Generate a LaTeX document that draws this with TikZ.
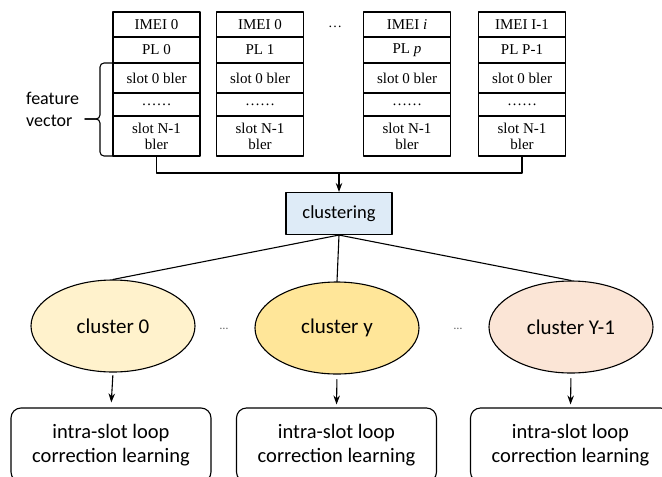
\documentclass[tikz,border=0pt]{standalone}
\usepackage{fontspec}
\setmainfont{Liberation Serif}
\newfontfamily\calibri{Carlito}
\usetikzlibrary{shapes.geometric,arrows.meta,positioning}

\definecolor{clustblue}{HTML}{DEEBF7}
\definecolor{lightgold}{HTML}{FFF2CC}
\definecolor{midgold}{HTML}{FFE699}
\definecolor{lightorange}{HTML}{FBE5D6}

\tikzset{
  cell/.style={draw,line width=1.1pt,minimum width=87pt,inner sep=0pt,align=center,
    font=\fontsize{15}{16}\selectfont},
  arr/.style={-{Stealth[length=9pt,width=6.5pt]},line width=1.1pt},
  cluster/.style={ellipse,draw,line width=1.1pt,minimum width=164pt,minimum height=92pt,
    inner sep=0pt,font=\calibri\fontsize{21}{24}\selectfont},
  learnbox/.style={draw,line width=1.1pt,rounded corners=10pt,minimum width=200pt,
    minimum height=74pt,align=center,font=\calibri\fontsize{20.5}{24}\selectfont},
}

\begin{document}
\begin{tikzpicture}[line cap=round,line join=round,x=1pt,y=-1pt]
  \useasboundingbox (0,0) rectangle (662,477);
  \clip (0,0) rectangle (662,477);
  % feature vectors of the UEs
  \foreach \x/\n/\imei/\pl in {156.5/a/0/0, 260/b/0/1, 407/c/\textit{i}/\textit{p}, 522/d/I-1/P-1}{
    \node[cell,minimum height=25pt] (imei-\n) at (\x,24.5) {IMEI \imei};
    \node[cell,minimum height=26pt] (pl-\n) at (\x,50) {PL \pl};
    \node[cell,minimum height=30pt] (first-\n) at (\x,78) {slot 0 bler};
    \node[cell,minimum height=23pt] (dots-\n) at (\x,104.5) {……};
    \node[cell,minimum height=40pt] (last-\n) at (\x,136) {slot N-1\\bler};
  }
  \node[font=\fontsize{14}{16}\selectfont] (topdots) at (335,27) {…};
  % brace
  \draw[line width=1.1pt,rounded corners=4pt] (113,63) -- (100,63) -- (100,119) -- (85,119);
  \draw[line width=1.1pt,rounded corners=4pt] (85,119) -- (100,119) -- (100,156) -- (113,156);
  \node[anchor=west,align=left,inner sep=0pt,font=\calibri\fontsize{18}{22}\selectfont] (feat) at (26,109) {feature\\vector};
  % clustering
  \node[draw,line width=1.1pt,fill=clustblue,minimum width=106pt,minimum height=42pt,
    font=\calibri\fontsize{18.5}{20}\selectfont] (clust) at (339,213.5) {clustering};
  \coordinate (bus) at (339,173);
  \draw[line width=1.1pt] (last-a.south) |- (bus) -| (last-d.south);
  \draw[arr] (bus) -- (clust.north);
  % clusters
  \node[cluster,fill=lightgold] (c0) at (113,326) {cluster 0};
  \node[cluster,fill=midgold] (cy) at (337,328) {cluster y};
  \node[cluster,fill=lightorange] (cY) at (571,327) {cluster Y-1};
  \node[font=\calibri\fontsize{12}{14}\selectfont,text=black!60] (dots1) at (224,329) {…};
  \node[font=\calibri\fontsize{12}{14}\selectfont,text=black!60] (dots2) at (458,329) {…};
  \draw[line width=1.1pt] (clust.south) -- (c0.north);
  \draw[line width=1.1pt] (clust.south) -- (cy.north);
  \draw[line width=1.1pt] (clust.south) -- (cY.north);
  % learning boxes
  \node[learnbox] (l0) at (111,445) {intra-slot loop\\correction learning};
  \node[learnbox] (ly) at (336.5,445) {intra-slot loop\\correction learning};
  \node[learnbox] (lY) at (570.5,445) {intra-slot loop\\correction learning};
  \draw[arr,shorten <=3pt,shorten >=5pt] (c0.south) -- (l0.north);
  \draw[arr,shorten <=5pt,shorten >=3pt] (cy.south) -- (ly.north);
  \draw[arr,shorten <=5pt,shorten >=3pt] (cY.south) -- (lY.north);
\end{tikzpicture}
\end{document}
